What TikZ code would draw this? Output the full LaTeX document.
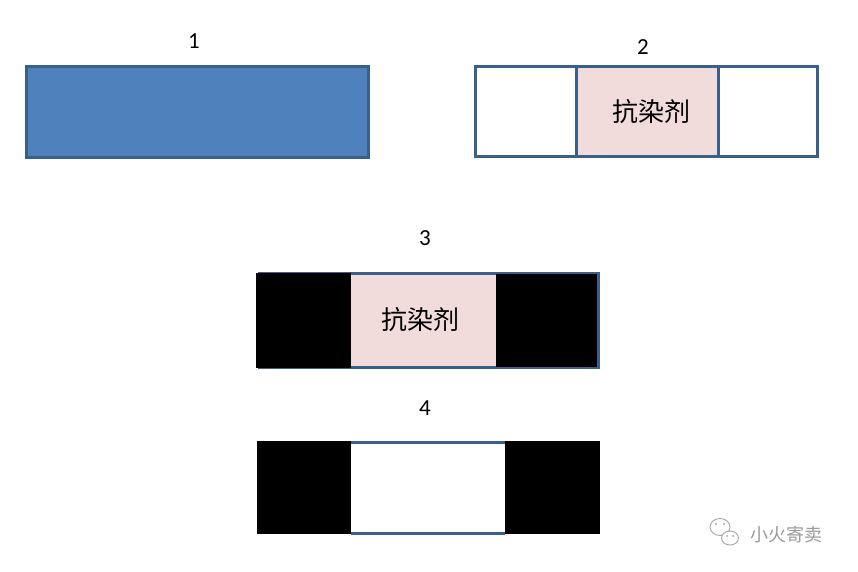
\documentclass[tikz,border=0pt]{standalone}
\usepackage{fontspec}
\setmainfont{Carlito}
\newfontfamily\cjk{Noto Sans CJK SC}
\usetikzlibrary{calc}
\definecolor{boxblue}{HTML}{4F81BD}
\definecolor{edgeblue}{HTML}{3A5F8B}
\definecolor{drugpink}{HTML}{F2DCDB}

\begin{document}
\begin{tikzpicture}[x=1pt,y=-1pt,
    cell/.style={rectangle,inner sep=0pt,outer sep=0pt,line width=3pt},
    blk/.style={cell,fill=black},
    num/.style={font=\fontsize{23}{26}\selectfont},
    drug/.style={font=\cjk\fontsize{26}{29}\selectfont}]
    \useasboundingbox (0,0) rectangle (858,572);
    % labels
    \node[num] (L1) at (194,41) {1};
    \node[num] (L2) at (643,47) {2};
    \node[num] (L3) at (425,238) {3};
    \node[num] (L4) at (425,408) {4};
    % 1
    \node[cell,draw=edgeblue,fill=boxblue,minimum width=342pt,minimum height=91pt] (A1) at (197,112.5) {};
    % 2
    \node[cell,draw=edgeblue,minimum width=101pt,minimum height=90pt] (B1) at (525.5,112) {};
    \node[cell,draw=edgeblue,fill=drugpink,minimum width=142pt,minimum height=90pt] (B2) at (647,112) {};
    \node[cell,draw=edgeblue,minimum width=99pt,minimum height=90pt] (B3) at (767.5,112) {};
    \node[drug] at ($(B2)+(4,0)$) {抗染剂};
    % 3
    \draw[edgeblue,line width=3pt,fill=drugpink] (259,273) rectangle (598,367);
    \node[blk,minimum width=95pt,minimum height=95pt] (C1) at (303,320) {};
    \node[cell,minimum width=147pt,minimum height=94pt] (C2) at (423.5,320) {};
    \node[blk,minimum width=101pt,minimum height=93pt] (C3) at (546.5,320.5) {};
    \node[drug] at ($(C2)+(-3,0)$) {抗染剂};
    % 4
    \node[blk,minimum width=94pt,minimum height=93pt] (D1) at (304,487.5) {};
    \node[cell,minimum width=154pt,minimum height=91pt] (D2) at (428,487.5) {};
    \node[blk,minimum width=95pt,minimum height=93pt] (D3) at (552.5,487.5) {};
    \path[draw=edgeblue,line width=3pt]
      (D2.north west) -- (D2.north east)
      (D2.south west) -- (D2.south east);
    % mark
    \begin{scope}[gray!70,line width=0.9pt]
      \draw[fill=white] (720,527) ellipse (10pt and 8.5pt);
      \draw[fill=white] (730,538) ellipse (8.5pt and 7pt);
      \fill (716,524) circle (1.1pt) (724,524) circle (1.1pt)
            (727,536) circle (1pt) (733,536) circle (1pt);
    \end{scope}
    \node[font=\cjk\fontsize{18}{20}\selectfont,text=gray!80] (W) at (786,535) {小火寄卖};
\end{tikzpicture}
\end{document}
